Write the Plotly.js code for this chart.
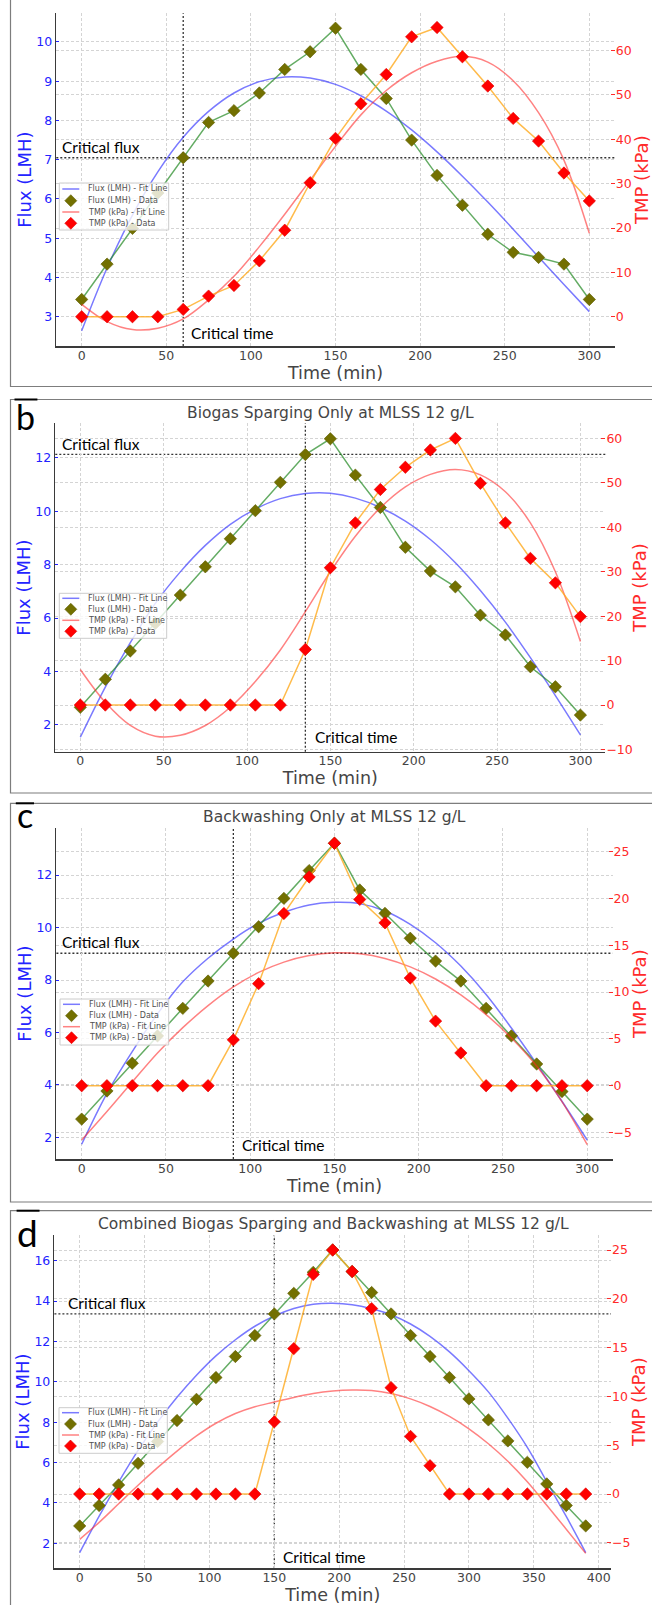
<!DOCTYPE html>
<html>
<head>
<meta charset="utf-8">
<script src="https://cdn.plot.ly/plotly-3.0.1.min.js"></script>
<style>html,body{margin:0;padding:0;background:#fff;}#chart{width:652px;height:1605px;}</style>
</head>
<body>
<div id="chart"></div>
<script>
// ---------------- DATA ----------------
const timeABC = [0,15,30,45,60,75,90,105,120,135,150,165,180,195,210,225,240,255,270,285,300];
const timeD = [0,15,30,45,60,75,90,105,120,135,150,165,180,195,210,225,240,255,270,285,300,315,330,345,360,375,390];
const xTicksABC = [0,50,100,150,200,250,300];
const xTicksD = [0,50,100,150,200,250,300,350,400];

// Panel a
const fluxA = [3.44,4.34,5.25,6.15,7.05,7.95,8.25,8.70,9.30,9.75,10.35,9.30,8.56,7.50,6.60,5.84,5.10,4.64,4.51,4.34,3.44];
const tmpA = [0,0,0,0,1.65,4.65,7.05,12.6,19.5,30.2,40.2,48.0,54.6,63.1,65.2,58.6,52.0,44.7,39.6,32.4,26.1];
const fluxFitA = [2.64,4.24,5.59,6.69,7.57,8.23,8.70,8.99,9.11,9.08,8.92,8.63,8.24,7.76,7.20,6.58,5.92,5.23,4.52,3.82,3.13];
const tmpFitA = [2.8,-1.1,-2.9,-2.6,-0.5,3.8,9.1,15.8,23.1,30.8,38.4,45.5,51.0,55.0,57.6,58.7,57.4,53.2,46.0,35.3,18.8];
const critFluxA = 7.05, critTimeA = 60;

// Panel b
const fluxB = [2.66,3.71,4.77,5.80,6.86,7.92,8.97,10.02,11.08,12.12,12.71,11.35,10.14,8.65,7.76,7.17,6.11,5.37,4.18,3.43,2.37];
const tmpB = [0,0,0,0,0,0,0,0,0,12.5,30.9,41.0,48.5,53.5,57.4,60.0,49.9,41.0,33.0,27.5,19.9];
const fluxFitB = [1.54,3.42,5.08,6.55,7.73,8.72,9.51,10.08,10.47,10.66,10.67,10.49,10.14,9.63,8.94,8.07,7.03,5.85,4.52,3.10,1.63];
const tmpFitB = [8.0,0.6,-4.6,-7.0,-6.8,-4.6,-0.5,5.3,12.4,21.0,30.0,38.0,44.4,49.1,51.9,53.0,51.8,48.0,41.0,30.0,14.3];
const critFluxB = 12.13, critTimeB = 135;

// Panel c
const fluxC = [2.70,3.77,4.83,5.87,6.92,7.96,9.02,10.03,11.11,12.17,13.21,11.43,10.54,9.59,8.72,7.96,6.92,5.87,4.80,3.75,2.70];
const tmpC = [0,0,0,0,0,0,4.9,10.9,18.4,22.3,25.9,19.9,17.4,11.5,6.9,3.5,0,0,0,0,0];
const fluxFitC = [1.74,3.68,5.27,6.71,7.93,8.83,9.56,10.16,10.58,10.86,10.96,10.91,10.63,10.12,9.42,8.53,7.45,6.17,4.80,3.38,1.90];
const tmpFitC = [-5.8,-2.75,0.4,3.5,6.2,8.55,10.55,12.1,13.2,13.9,14.2,14.1,13.6,12.7,11.4,9.7,7.6,5.1,2.1,-1.7,-6.3];
const critFluxC = 9.02, critTimeC = 90;

// Panel d
const fluxD = [2.86,3.87,4.89,5.96,7.04,8.08,9.13,10.21,11.25,12.29,13.36,14.38,15.42,16.53,15.46,14.42,13.36,12.29,11.25,10.21,9.15,8.11,7.07,6.01,4.94,3.87,2.86];
const tmpD = [0,0,0,0,0,0,0,0,0,0,7.4,14.9,22.5,25.0,22.8,19.0,10.9,5.9,2.9,0,0,0,0,0,0,0,0];
const fluxFitD = [1.54,3.34,5.03,6.6,8.0,9.23,10.32,11.28,12.08,12.75,13.26,13.63,13.84,13.89,13.82,13.62,13.32,12.86,12.25,11.48,10.55,9.5,8.2,6.75,5.05,3.33,1.54];
const tmpFitD = [-4.64,-2.9,-1.0,0.9,2.7,4.4,5.95,7.25,8.25,8.95,9.42,9.9,10.3,10.55,10.65,10.6,10.3,9.75,8.97,7.95,6.68,5.15,3.35,1.25,-1.15,-3.6,-6.08];
const critFluxD = 13.36, critTimeD = 150;

const titles = [null, 'Biogas Sparging Only at MLSS 12 g/L', 'Backwashing Only at MLSS 12 g/L', 'Combined Biogas Sparging and Backwashing at MLSS 12 g/L'];
const panelLetters = [null, 'b', 'c', 'd'];
const legendNames = ['Flux (LMH) - Fit Line', 'Flux (LMH) - Data', 'TMP (kPa) - Fit Line', 'TMP (kPa) - Data'];

// ---------------- LAYOUT GEOMETRY (pixels) ----------------
const W = 652, H = 1605;
const px = v => v / W;
const py = v => 1 - v / H;

const geom = [
  {plot:{l:56.3,r:614.7,t:13.3,b:346}, xr:[-15,315], yr:[2.254,10.73], y2r:[-6.6,68.4], ydt:1, y2dt:10, xt:xTicksABC,
   leg:{l:59.3,r:168.7,t:183,b:230,rows:[189,200.7,212,223.3]}, cf:[60,146.7], ct:[189.3,333],
   border:{t:-20,b:386.5}, title:null, letter:null},
  {plot:{l:55.3,r:605.4,t:423.3,b:751.7}, xr:[-15,315], yr:[1.0,13.29], y2r:[-10.5,63.4], ydt:2, y2dt:10, xt:xTicksABC,
   leg:{l:59.3,r:166.7,t:593.3,b:638.3,rows:[598.3,609.3,620.3,631.3]}, cf:[60,444.3], ct:[313,736.7],
   border:{t:399.5,b:793}, title:[330.6,412.7], letter:[25,416.5], seg:[14.5,37.4]},
  {plot:{l:56.4,r:612.5,t:828.3,b:1159}, xr:[-15,315], yr:[1.18,13.78], y2r:[-7.83,27.5], ydt:2, y2dt:5, xt:xTicksABC,
   leg:{l:60,r:168.7,t:999,b:1045,rows:[1004.3,1015.7,1026.7,1037.7]}, cf:[60,942.3], ct:[240.3,1145],
   border:{t:803.3,b:1202}, title:[334,816.7], letter:[24.5,815], seg:[15.8,34]},
  {plot:{l:54.4,r:611,t:1235,b:1568.3}, xr:[-19.5,409.5], yr:[0.76,17.27], y2r:[-7.61,26.54], ydt:2, y2dt:5, xt:xTicksD,
   leg:{l:59,r:167.3,t:1407.7,b:1453.3,rows:[1412.7,1424,1435,1446]}, cf:[65.7,1303.3], ct:[281.3,1557.3],
   border:{t:1210.7,b:1700}, title:[333.7,1224.3], letter:[27.5,1232], seg:[16.6,39.5]}
];

const series = [
  {t:timeABC, flux:fluxA, tmp:tmpA, fluxFit:fluxFitA, tmpFit:tmpFitA, cf:critFluxA, ct:critTimeA},
  {t:timeABC, flux:fluxB, tmp:tmpB, fluxFit:fluxFitB, tmpFit:tmpFitB, cf:critFluxB, ct:critTimeB},
  {t:timeABC, flux:fluxC, tmp:tmpC, fluxFit:fluxFitC, tmpFit:tmpFitC, cf:critFluxC, ct:critTimeC},
  {t:timeD, flux:fluxD, tmp:tmpD, fluxFit:fluxFitD, tmpFit:tmpFitD, cf:critFluxD, ct:critTimeD}
];

// ---------------- STYLES ----------------
const FONT = 'DejaVu Sans, Arial, sans-serif';
const NOTE_FONT = 'Lato, "Open Sans", sans-serif';
const BLUE = '#2323ff', RED = '#ff2a2a', GREY_TXT = '#454545';
const GRID = '#d4d4d4';
const FIT_BLUE = 'rgba(40,40,255,0.62)', FIT_RED = 'rgba(255,40,40,0.58)';
const LINE_GREEN = 'rgba(40,140,40,0.72)', LINE_ORANGE = 'rgba(255,170,30,0.8)';
const OLIVE = '#737000', OLIVE_EDGE = '#5d5d00';

const layout = {
  width: W, height: H,
  margin: {l:0, r:0, t:0, b:0, pad:0},
  paper_bgcolor: '#ffffff', plot_bgcolor: 'rgba(0,0,0,0)',
  font: {family: FONT, color: GREY_TXT},
  showlegend: false,
  shapes: [], annotations: []
};
const traces = [];

geom.forEach((g, i) => {
  const s = series[i];
  const n = i + 1;
  const xKey = n === 1 ? 'xaxis' : 'xaxis' + n;
  const xRef = n === 1 ? 'x' : 'x' + n;
  const yi = 2 * n - 1, y2i = 2 * n;
  const yKey = yi === 1 ? 'yaxis' : 'yaxis' + yi;
  const yRef = yi === 1 ? 'y' : 'y' + yi;
  const y2Key = 'yaxis' + y2i, y2Ref = 'y' + y2i;

  layout[xKey] = {
    domain: [px(g.plot.l), px(g.plot.r)], range: g.xr, anchor: yRef,
    tickmode: 'array', tickvals: g.xt,
    showgrid: true, gridcolor: GRID, gridwidth: 1, griddash: '3px,2px',
    zeroline: false, showline: true, linecolor: '#3a3a3a', linewidth: 1.6,
    ticks: '', ticklen: 0, ticklabelstandoff: -3, tickfont: {family: FONT, size: 12.5, color: GREY_TXT},
    title: {text: 'Time (min)', font: {family: FONT, size: 17.5, color: GREY_TXT}, standoff: 1},
    fixedrange: true
  };
  layout[yKey] = {
    domain: [py(g.plot.b), py(g.plot.t)], range: g.yr, anchor: xRef,
    dtick: g.ydt, tick0: 0,
    showgrid: true, gridcolor: GRID, gridwidth: 1, griddash: '3px,2px',
    zeroline: false, showline: true, linecolor: '#3a3a3a', linewidth: 1.6,
    ticks: 'inside', ticklen: 3, tickcolor: BLUE, tickwidth: 1,
    tickfont: {family: FONT, size: 12.5, color: BLUE},
    title: {text: 'Flux (LMH)', font: {family: FONT, size: 18, color: BLUE}, standoff: 0},
    fixedrange: true
  };
  layout[y2Key] = {
    domain: [py(g.plot.b), py(g.plot.t)], range: g.y2r, anchor: xRef,
    overlaying: yRef, side: 'right',
    dtick: g.y2dt, tick0: 0,
    showgrid: true, gridcolor: GRID, gridwidth: 1, griddash: '3px,2px',
    zeroline: false, showline: false,
    ticks: 'inside', ticklen: 4, tickcolor: RED, tickwidth: 1,
    tickfont: {family: FONT, size: 12.5, color: RED},
    title: {text: 'TMP (kPa)', font: {family: FONT, size: 18, color: RED}, standoff: 1},
    fixedrange: true
  };

  // traces
  traces.push({x: s.t, y: s.fluxFit, xaxis: xRef, yaxis: yRef, type: 'scatter', mode: 'lines',
    line: {color: FIT_BLUE, width: 1.5, shape: 'spline', smoothing: 1}, name: legendNames[0], hoverinfo: 'skip'});
  traces.push({x: s.t, y: s.flux, xaxis: xRef, yaxis: yRef, type: 'scatter', mode: 'lines+markers',
    line: {color: LINE_GREEN, width: 1.5},
    marker: {symbol: 'diamond', size: 9.5, color: OLIVE, line: {color: OLIVE_EDGE, width: 0.6}}, name: legendNames[1]});
  traces.push({x: s.t, y: s.tmpFit, xaxis: xRef, yaxis: y2Ref, type: 'scatter', mode: 'lines',
    line: {color: FIT_RED, width: 1.5, shape: 'spline', smoothing: 1}, name: legendNames[2], hoverinfo: 'skip'});
  traces.push({x: s.t, y: s.tmp, xaxis: xRef, yaxis: y2Ref, type: 'scatter', mode: 'lines+markers',
    line: {color: LINE_ORANGE, width: 1.5},
    marker: {symbol: 'diamond', size: 9.5, color: '#ff0000', line: {color: '#e00000', width: 0.6}}, name: legendNames[3]});

  // critical lines (data coordinates)
  layout.shapes.push({type: 'line', xref: 'paper', x0: px(g.plot.l), x1: px(g.plot.r), yref: yRef, y0: s.cf, y1: s.cf,
    line: {color: '#333333', width: 1.3, dash: '2px,2px'}, layer: 'below'});
  layout.shapes.push({type: 'line', xref: xRef, x0: s.ct, x1: s.ct, yref: 'paper', y0: py(g.plot.b), y1: py(g.plot.t),
    line: {color: '#333333', width: 1.3, dash: '2px,2px'}, layer: 'below'});

  // panel border
  layout.shapes.push({type: 'rect', xref: 'paper', yref: 'paper', x0: px(10.5), x1: px(700), y0: py(g.border.b), y1: py(g.border.t),
    line: {color: '#7d7d7d', width: 1.2}, fillcolor: 'rgba(0,0,0,0)', layer: 'below'});
  if (g.seg) {
    layout.shapes.push({type: 'line', xref: 'paper', yref: 'paper', x0: px(g.seg[0]), x1: px(g.seg[1]), y0: py(g.border.t), y1: py(g.border.t),
      line: {color: '#000000', width: 2}});
  }

  // legend (custom, compact like matplotlib)
  const L = g.leg;
  layout.shapes.push({type: 'rect', xref: 'paper', yref: 'paper', x0: px(L.l), x1: px(L.r), y0: py(L.b), y1: py(L.t),
    line: {color: '#cccccc', width: 1}, fillcolor: 'rgba(255,255,255,0.8)', layer: 'above'});
  const hx0 = L.l + 3, hx1 = L.l + 20, hc = L.l + 11.5, tx = L.l + 26.5;
  const dia = (cx, cy, r, fill, edge) => ({type: 'path', xref: 'paper', yref: 'paper',
    path: `M ${px(cx - r)},${py(cy)} L ${px(cx)},${py(cy - r)} L ${px(cx + r)},${py(cy)} L ${px(cx)},${py(cy + r)} Z`,
    fillcolor: fill, line: {color: edge, width: 0.6}, layer: 'above'});
  layout.shapes.push({type: 'line', xref: 'paper', yref: 'paper', x0: px(hx0), x1: px(hx1), y0: py(L.rows[0]), y1: py(L.rows[0]),
    line: {color: FIT_BLUE, width: 1.5}, layer: 'above'});
  layout.shapes.push(dia(hc, L.rows[1], 6, OLIVE, OLIVE_EDGE));
  layout.shapes.push({type: 'line', xref: 'paper', yref: 'paper', x0: px(hx0), x1: px(hx1), y0: py(L.rows[2]), y1: py(L.rows[2]),
    line: {color: FIT_RED, width: 1.5}, layer: 'above'});
  layout.shapes.push(dia(hc, L.rows[3], 6, '#ff0000', '#e00000'));
  legendNames.forEach((nm, k) => {
    layout.annotations.push({xref: 'paper', yref: 'paper', x: px(tx), y: py(L.rows[k]), xanchor: 'left', yanchor: 'middle',
      text: nm, showarrow: false, font: {family: FONT, size: 8, color: '#505050'}});
  });

  // critical annotations
  layout.annotations.push({xref: 'paper', yref: 'paper', x: px(g.cf[0]), y: py(g.cf[1]), xanchor: 'left', yanchor: 'middle',
    text: 'Critical flux', showarrow: false, font: {family: NOTE_FONT, size: 15.5, color: '#000000'}});
  layout.annotations.push({xref: 'paper', yref: 'paper', x: px(g.ct[0]), y: py(g.ct[1]), xanchor: 'left', yanchor: 'middle',
    text: 'Critical time', showarrow: false, font: {family: NOTE_FONT, size: 15.5, color: '#000000'}});

  if (g.title) {
    layout.annotations.push({xref: 'paper', yref: 'paper', x: px(g.title[0]), y: py(g.title[1]), xanchor: 'center', yanchor: 'middle',
      text: titles[i], showarrow: false, font: {family: FONT, size: 15.5, color: GREY_TXT}});
  }
  if (g.letter) {
    layout.annotations.push({xref: 'paper', yref: 'paper', x: px(g.letter[0]), y: py(g.letter[1]), xanchor: 'center', yanchor: 'middle',
      text: panelLetters[i], showarrow: false, font: {family: NOTE_FONT, size: i === 3 ? 37 : 34, color: '#000000'}});
  }
});

Plotly.newPlot('chart', traces, layout, {staticPlot: true, displayModeBar: false});
</script>
</body>
</html>
